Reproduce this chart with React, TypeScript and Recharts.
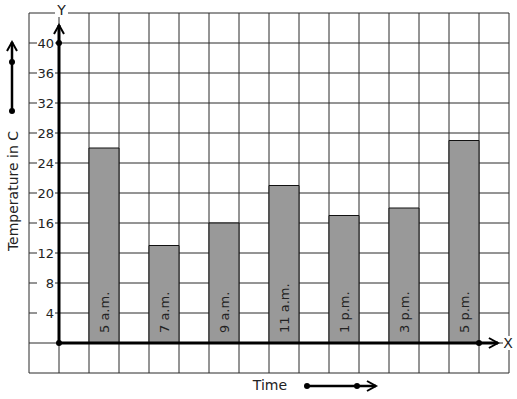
import {
    BarChart,
    Bar,
    XAxis,
    YAxis,
    CartesianGrid,
    ReferenceLine,
    ReferenceDot,
    LabelList,
} from 'recharts'

const times = ['5 a.m.', '7 a.m.', '9 a.m.', '11 a.m.', '1 p.m.', '3 p.m.', '5 p.m.']
const temps = [26, 13, 16, 21, 17, 18, 27]
const yTicks = [-4, 0, 4, 8, 12, 16, 20, 24, 28, 32, 36, 40, 44]
const yLabels = [4, 8, 12, 16, 20, 24, 28, 32, 36, 40]
const xTicks = [-1, 0, 1, 2, 3, 4, 5, 6, 7, 8, 9, 10, 11, 12, 13, 14, 15]

// every reading sits in every other grid cell, starting one cell right of the Y axis
const data = times.map((time, i) => ({ time, temp: temps[i], slot: 2 * i + 1.5 }))

const FONT = '"DejaVu Sans", Verdana, sans-serif'

const YTick = (props: any) => {
    const { x, y, payload } = props
    if (!yLabels.includes(payload.value)) return null
    return (
        <g>
            <rect x={x + 8} y={y - 7} width={18} height={14} fill="#fff" />
            <text
                x={x + 25}
                y={y}
                dy={4.5}
                textAnchor="end"
                fontSize={13}
                fontFamily={FONT}
                fill="#222"
            >
                {payload.value}
            </text>
        </g>
    )
}

const BarText = (props: any) => {
    const { x, y, width, height, value } = props
    const cx = x + width / 2 + 4.5
    const by = y + height - 10
    return (
        <text
            x={cx}
            y={by}
            transform={`rotate(-90 ${cx} ${by})`}
            textAnchor="start"
            fontSize={13}
            fontFamily={FONT}
            fill="#222"
        >
            {value}
        </text>
    )
}

const ArrowLine = (props: any) => {
    const { x1, y1, x2, y2 } = props
    const len = Math.hypot(x2 - x1, y2 - y1) || 1
    const ux = (x2 - x1) / len
    const uy = (y2 - y1) / len
    const bx = x2 - ux * 9
    const by = y2 - uy * 9
    return (
        <g stroke="#000" strokeWidth={3} fill="none">
            <line x1={x1} y1={y1} x2={x2} y2={y2} />
            <polyline
                points={`${bx - uy * 5},${by + ux * 5} ${x2},${y2} ${bx + uy * 5},${by - ux * 5}`}
                strokeWidth={2}
            />
        </g>
    )
}

const Decor = () => (
    <svg
        width={517}
        height={399}
        style={{ position: 'absolute', left: 0, top: 0, pointerEvents: 'none' }}
        fontFamily={FONT}
    >
        <rect x={55} y={3} width={13} height={14} fill="#fff" />
        <text x={61.5} y={15} textAnchor="middle" fontSize={14} fill="#222">
            Y
        </text>
        <rect x={503} y={336} width={11} height={14} fill="#fff" />
        <text x={508} y={348} textAnchor="middle" fontSize={14} fill="#222">
            X
        </text>
        <text
            x={18}
            y={191}
            transform="rotate(-90 18 191)"
            textAnchor="middle"
            fontSize={14}
            fill="#222"
        >
            Temperature in C
        </text>
        <text x={270} y={390} textAnchor="middle" fontSize={14} fill="#222">
            Time
        </text>
        <g stroke="#000" strokeWidth={2.5} fill="none">
            <line x1={12} y1={111} x2={12} y2={42} />
            <polyline points="7,51 12,42 17,51" strokeWidth={2} />
            <line x1={307} y1={386} x2={376} y2={386} />
            <polyline points="367,381 376,386 367,391" strokeWidth={2} />
        </g>
        <circle cx={12} cy={62} r={3} fill="#000" />
        <circle cx={12} cy={111} r={3} fill="#000" />
        <circle cx={307} cy={386} r={3} fill="#000" />
        <circle cx={357} cy={386} r={3} fill="#000" />
    </svg>
)

const App = () => {
    return (
        <div style={{ position: 'absolute', left: 0, top: 0, width: 517, height: 399, background: '#fff' }}>
            <BarChart
                width={517}
                height={399}
                data={data}
                margin={{ top: 13, right: 8, left: 0, bottom: 26 }}
            >
                <CartesianGrid
                    stroke="#2b2b2b"
                    strokeOpacity={1}
                    verticalValues={xTicks}
                    horizontalValues={yTicks}
                />
                <XAxis
                    dataKey="slot"
                    type="number"
                    domain={[-1, 15]}
                    ticks={xTicks}
                    hide
                />
                <YAxis
                    type="number"
                    domain={[-4, 44]}
                    ticks={yTicks}
                    width={29}
                    tickSize={0}
                    tickMargin={0}
                    axisLine={false}
                    tickLine={false}
                    tick={<YTick />}
                    interval={0}
                />
                <Bar
                    dataKey="temp"
                    fill="#999999"
                    stroke="#111"
                    strokeWidth={1}
                    barSize={30}
                    isAnimationActive={false}
                >
                    <LabelList dataKey="time" content={<BarText />} />
                </Bar>
                <ReferenceLine
                    segment={[{ x: 0, y: 0 }, { x: 0, y: 42.4 }]}
                    shape={<ArrowLine />}
                />
                <ReferenceLine
                    segment={[{ x: 0, y: 0 }, { x: 14.63, y: 0 }]}
                    shape={<ArrowLine />}
                />
                <ReferenceDot x={0} y={0} r={3} fill="#000" stroke="none" />
                <ReferenceDot x={0} y={40} r={3} fill="#000" stroke="none" />
                <ReferenceDot x={14} y={0} r={3} fill="#000" stroke="none" />
            </BarChart>
            <Decor />
        </div>
    )
}

export default App
